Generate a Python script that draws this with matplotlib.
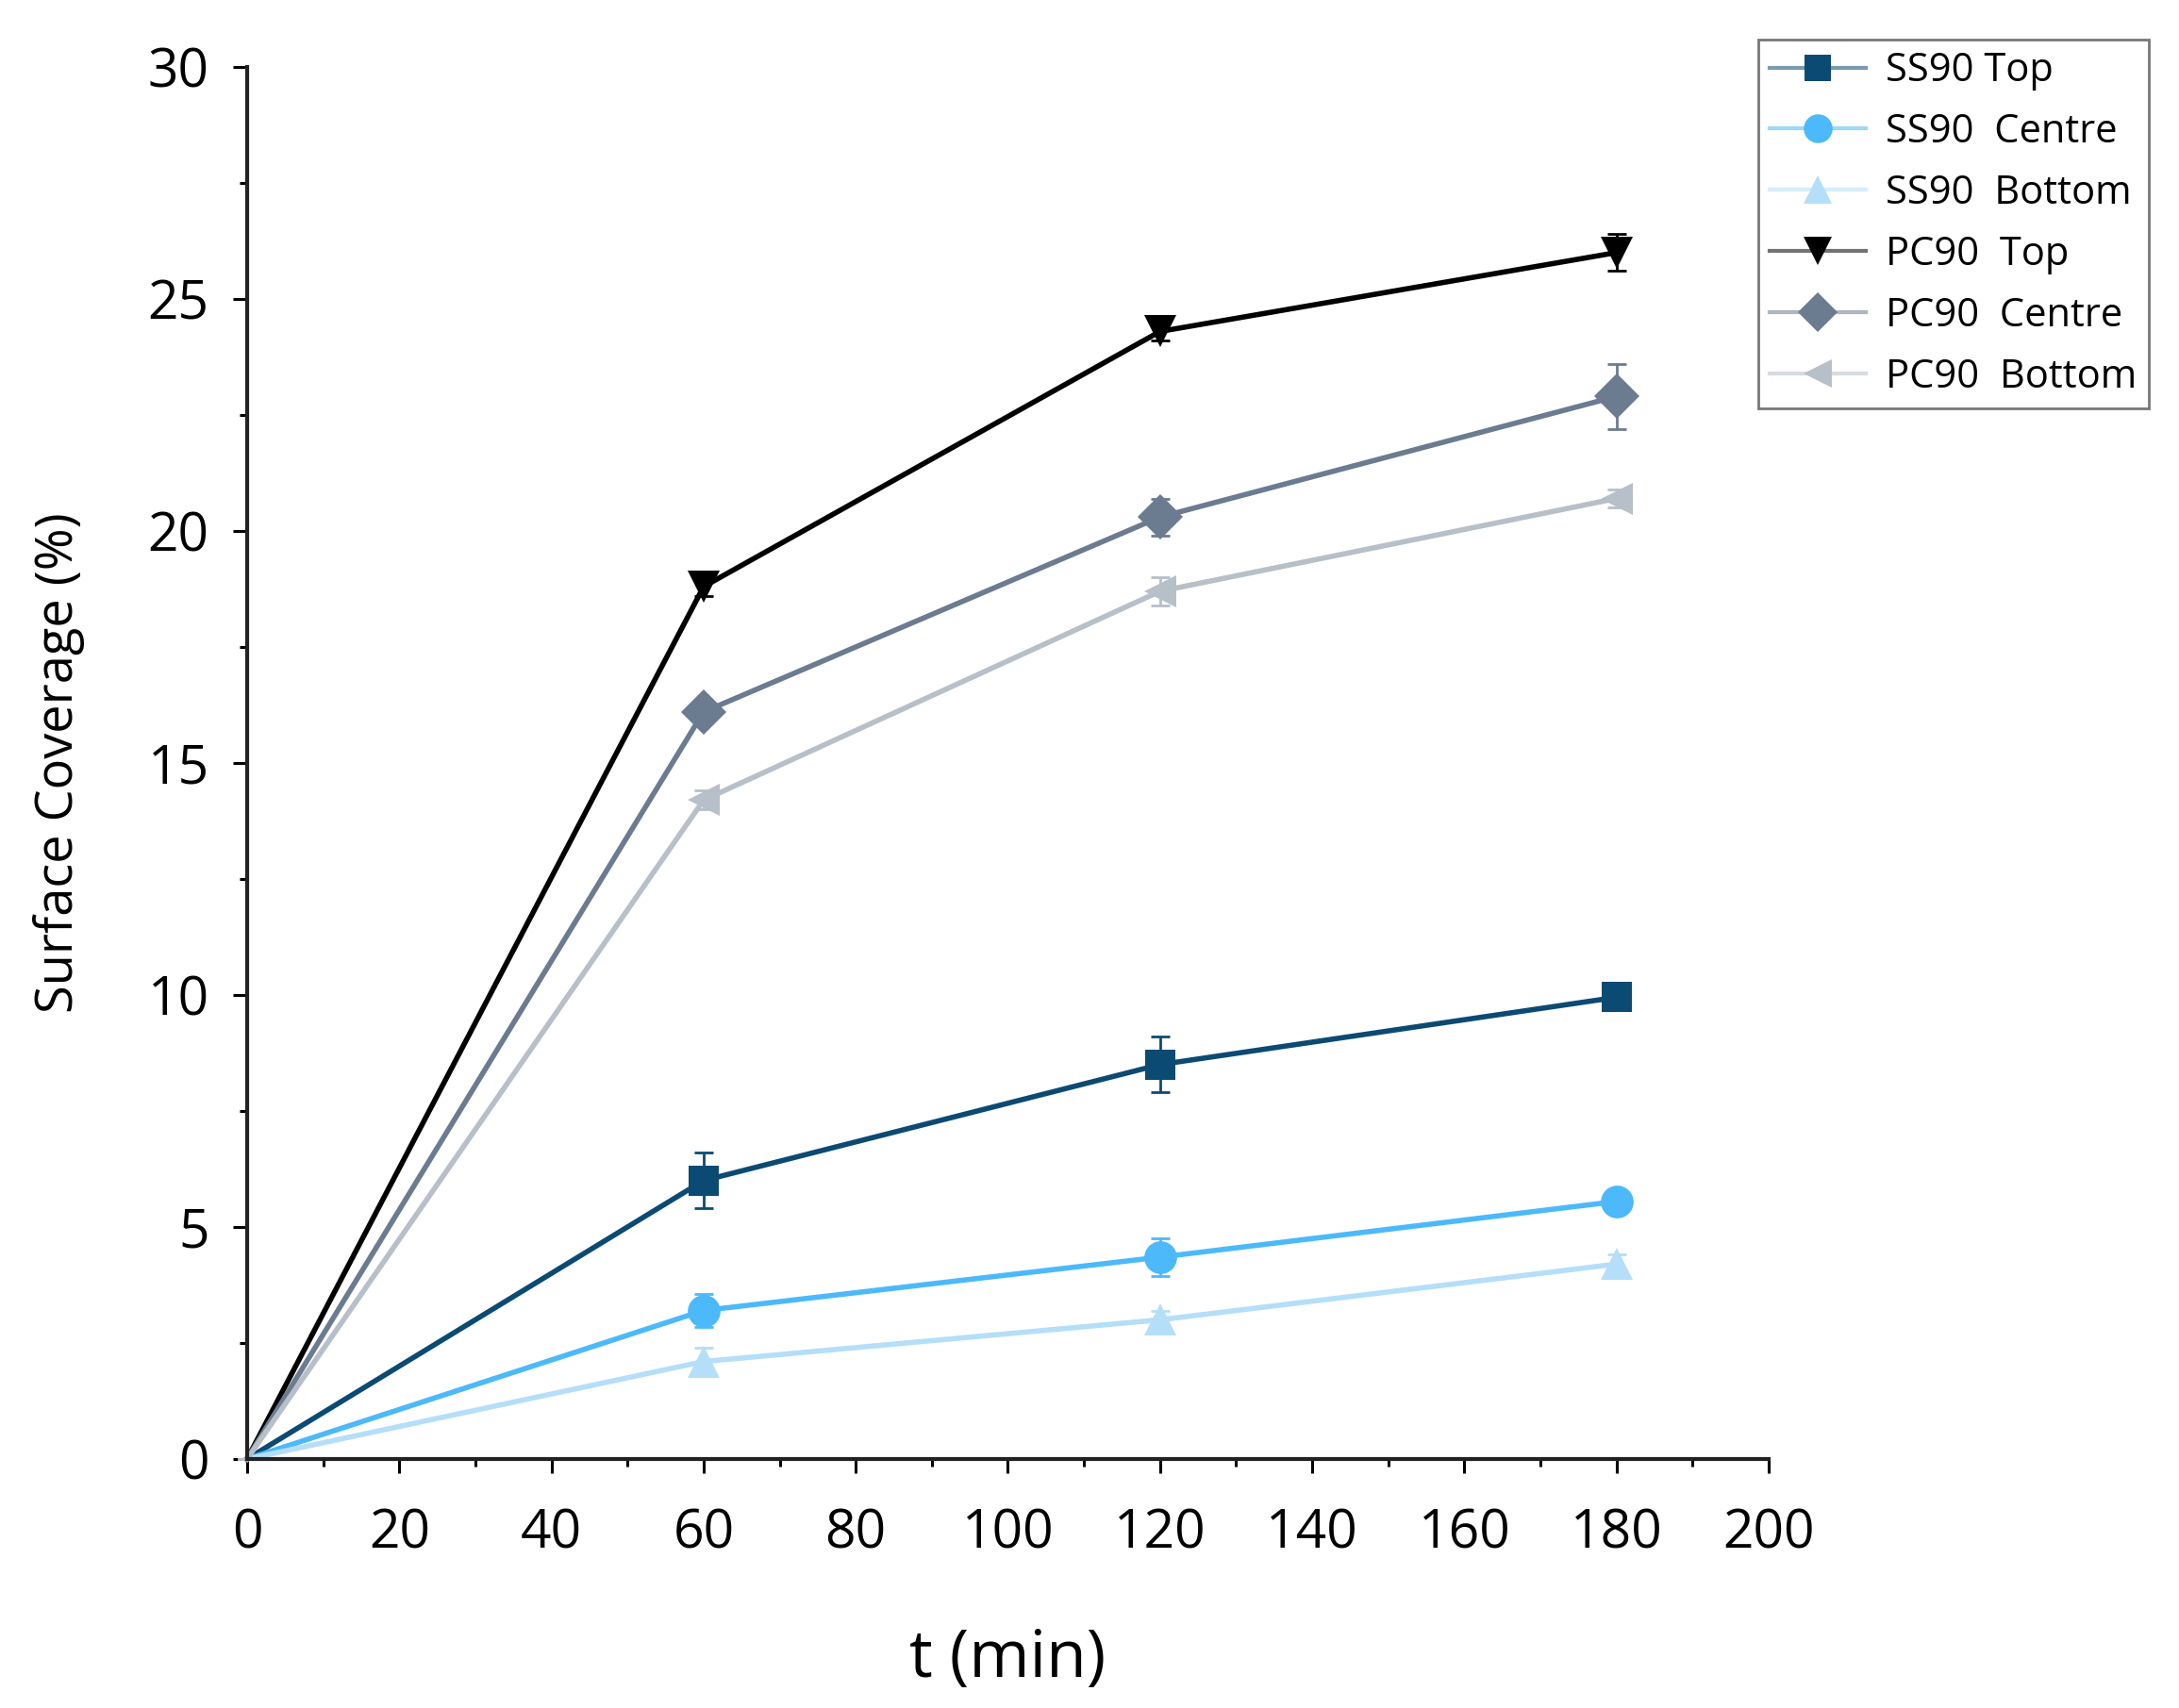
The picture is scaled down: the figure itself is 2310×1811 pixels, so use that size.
import matplotlib
matplotlib.use("Agg")
import matplotlib.pyplot as plt
from matplotlib.ticker import MultipleLocator
from matplotlib.lines import Line2D
from matplotlib.colors import to_rgba

plt.rcParams['font.family'] = ['Open Sans', 'DejaVu Sans']

t = [0, 60, 120, 180]

labels = ["SS90 Top", "SS90  Centre", "SS90  Bottom", "PC90  Top", "PC90  Centre", "PC90  Bottom"]
colors = ["#0b4a72", "#4cb9fb", "#b5def8", "#000000", "#6b7b90", "#b7bfc9"]
markers = ["s", "o", "^", "v", "D", "<"]

ss90_top = [0, 6.0, 8.5, 9.95]
ss90_centre = [0, 3.2, 4.35, 5.55]
ss90_bottom = [0, 2.1, 3.0, 4.2]
pc90_top = [0, 18.8, 24.3, 26.0]
pc90_centre = [0, 16.1, 20.3, 22.9]
pc90_bottom = [0, 14.2, 18.7, 20.7]

ss90_top_err = [0, 0.6, 0.6, 0.1]
ss90_centre_err = [0, 0.35, 0.4, 0.2]
ss90_bottom_err = [0, 0.3, 0.2, 0.2]
pc90_top_err = [0, 0.2, 0.2, 0.4]
pc90_centre_err = [0, 0.2, 0.4, 0.7]
pc90_bottom_err = [0, 0.2, 0.3, 0.2]

series = [ss90_top, ss90_centre, ss90_bottom, pc90_top, pc90_centre, pc90_bottom]
errors = [ss90_top_err, ss90_centre_err, ss90_bottom_err, pc90_top_err, pc90_centre_err, pc90_bottom_err]
sizes = [23, 25, 25, 25, 24, 25]

fig = plt.figure(figsize=(23.1, 18.11), dpi=100)
ax = fig.add_axes([0.1134, 0.1458, 0.6983, 0.815])

handles = []
for y, e, c, m, lab, ms in zip(series, errors, colors, markers, labels, sizes):
    ax.errorbar(t, y, yerr=e, fmt='none', ecolor=c, elinewidth=2, capsize=7, capthick=2,
                clip_on=False)
    ax.plot(t, y, color=c, linewidth=4, marker=m, markersize=ms, markevery=[1, 2, 3],
            markeredgewidth=0, clip_on=False)
    lc = to_rgba(c, 0.55)
    handles.append(Line2D([], [], color=lc, linewidth=3, marker=m, markersize=ms - 3,
                          markerfacecolor=c, markeredgewidth=0, label=lab))

ax.set_xlim(0, 200)
ax.set_ylim(0, 30)
ax.xaxis.set_major_locator(MultipleLocator(20))
ax.xaxis.set_minor_locator(MultipleLocator(10))
ax.yaxis.set_major_locator(MultipleLocator(5))
ax.yaxis.set_minor_locator(MultipleLocator(2.5))

for side in ['top', 'right']:
    ax.spines[side].set_visible(False)
for side in ['left', 'bottom']:
    ax.spines[side].set_linewidth(3)
    ax.spines[side].set_color('#222222')

ax.tick_params(which='major', direction='out', length=11, width=2.2, labelsize=41)
ax.tick_params(which='minor', direction='out', length=6, width=2.2)
ax.tick_params(axis='x', which='major', pad=26)
ax.tick_params(axis='y', which='major', pad=18)

ax.set_xlabel("t (min)", fontsize=50, labelpad=50)
ax.set_ylabel("Surface Coverage (%)", fontsize=39, labelpad=48)

leg = fig.legend(handles=handles, loc='upper left', bbox_to_anchor=(0.8068, 0.977),
                 fontsize=30, frameon=True, fancybox=False, edgecolor='#555555',
                 handlelength=2.45, borderpad=0.3, labelspacing=0.55, handletextpad=0.5,
                 borderaxespad=0)
leg.get_frame().set_linewidth(2)

fig.savefig("out.png", dpi=100)
